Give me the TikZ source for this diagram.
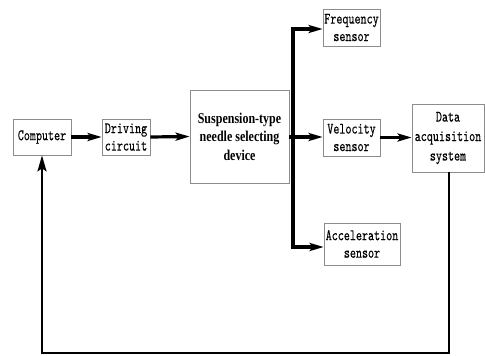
\documentclass[tikz,border=0pt]{standalone}
\usepackage{fontspec}
\usetikzlibrary{arrows.meta}
\newfontfamily\condmono{lmmono10-regular}[Extension=.otf,FakeStretch=0.72,FakeBold=0.3]
\newfontfamily\condserif{Liberation Serif}[FakeStretch=0.8]
\tikzset{
  blk/.style={draw=black!45,line width=0.7pt,fill=white,inner sep=0pt,align=center,
    font=\condmono\fontsize{16}{17.5}\selectfont},
  flow/.style={line width=3.2pt,-{Stealth[length=14pt,width=8pt,inset=3pt]}},
  bus/.style={line width=3.2pt},
  fb/.style={line width=2.6pt,-{Stealth[length=16pt,width=9pt,inset=3pt]}}
}
\begin{document}
\begin{tikzpicture}[x=1pt,y=-1pt]
\useasboundingbox (0,0) rectangle (485,356);
\node[blk,minimum width=58pt,minimum height=36pt] (comp) at (42,137) {Computer};
\node[blk,minimum width=48pt,minimum height=36pt] (drive) at (126,137) {Driving\\circuit};
\node[blk,minimum width=99pt,minimum height=93pt,font=\condserif\bfseries\fontsize{15}{18.5}\selectfont] (susp) at (239.5,136.5) {Suspension-type\\needle selecting\\device};
\node[blk,minimum width=57pt,minimum height=37pt] (freq) at (351.5,27.5) {Frequency\\sensor};
\node[blk,minimum width=57pt,minimum height=37pt] (vel) at (351.5,137.5) {Velocity\\sensor};
\node[blk,minimum width=76pt,minimum height=42pt] (acc) at (362,244) {Acceleration\\sensor};
\node[blk,minimum width=72pt,minimum height=68pt,font=\condmono\fontsize{16}{19.5}\selectfont] (daq) at (448,138) {Data\\acquisition\\system};
\coordinate (bt) at (293,29);
\coordinate (bm) at (293,137);
\coordinate (bb) at (293,247);
\coordinate (c1) at (449,353);
\coordinate (c2) at (42,353);
\draw[flow] (comp.east) -- (drive.west);
\draw[flow] (drive.east) -- (susp.west);
\draw[bus] (susp.east |- bm) -- (bm);
\draw[bus,line cap=rect] (bt) -- (bb);
\draw[flow] (bt) -- (freq.west |- bt);
\draw[flow] (bm) -- (vel.west |- bm);
\draw[flow] (bb) -- (acc.west |- bb);
\draw[flow] (vel.east) -- (daq.west |- vel.east);
\draw[fb] (daq.south -| c1) -- (c1) -- (c2) -- (comp.south);
\end{tikzpicture}
\end{document}
